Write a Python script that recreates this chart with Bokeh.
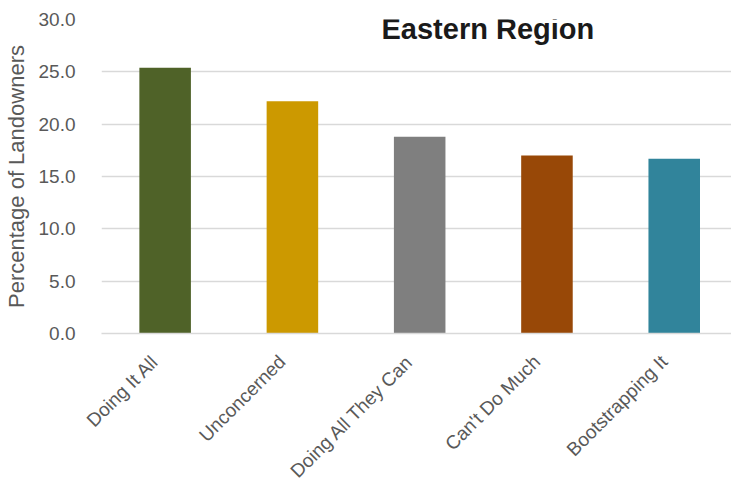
from math import pi
from bokeh.plotting import figure
from bokeh.models import ColumnDataSource, Range1d, FixedTicker, NumeralTickFormatter, Label
from bokeh.embed import file_html
from bokeh.resources import INLINE

categories = ["Doing It All", "Unconcerned", "Doing All They Can", "Can't Do Much", "Bootstrapping It"]
values = [25.4, 22.2, 18.8, 17.0, 16.7]
colors = ["#4f6228", "#cc9900", "#7f7f7f", "#984807", "#31849b"]
y_ticks = [0, 5, 10, 15, 20, 25, 30]
title_text = "Eastern Region"
y_label = "Percentage of Landowners"

idx = list(range(len(categories)))
src = ColumnDataSource(dict(x=idx, top=values, color=colors, name=categories))

p = figure(width=731, height=492, output_backend="svg", toolbar_location=None,
           x_range=Range1d(-0.5, 4.45), y_range=Range1d(0, 30))
p.min_border_left = 95
p.min_border_right = 0
p.min_border_top = 19
p.min_border_bottom = 159
p.outline_line_color = None
p.background_fill_color = "white"
p.border_fill_color = "white"

p.vbar(x="x", top="top", bottom=0, width=0.405, color="color", source=src, line_color=None)

p.xgrid.grid_line_color = None
p.ygrid.grid_line_color = "#d9d9d9"
p.ygrid.grid_line_width = 1.5
p.ygrid.ticker = FixedTicker(ticks=y_ticks)

p.yaxis.ticker = FixedTicker(ticks=y_ticks)
p.yaxis.formatter = NumeralTickFormatter(format="0.0")
p.yaxis.axis_line_color = None
p.yaxis.major_tick_line_color = None
p.yaxis.minor_tick_line_color = None
p.yaxis.major_label_text_font = "Liberation Sans"
p.yaxis.major_label_text_font_size = "19px"
p.yaxis.major_label_text_color = "#595959"
p.yaxis.major_label_standoff = 20
p.yaxis.axis_label = y_label
p.yaxis.axis_label_text_font = "Liberation Sans"
p.yaxis.axis_label_text_font_style = "normal"
p.yaxis.axis_label_text_font_size = "22px"
p.yaxis.axis_label_text_color = "#595959"
p.yaxis.axis_label_standoff = 7

# tick positions nudged slightly left of the bar centres so rotated labels end where the reference's do
label_shift = 0.08
x_ticks = [i - label_shift for i in idx]
p.xaxis.ticker = FixedTicker(ticks=x_ticks)
p.xaxis.major_label_overrides = {t: c for t, c in zip(x_ticks, categories)}
p.xaxis.major_label_orientation = pi / 4
p.xaxis.axis_line_color = "#d9d9d9"
p.xaxis.axis_line_width = 1.5
p.xaxis.major_tick_line_color = None
p.xaxis.minor_tick_line_color = None
p.xaxis.major_label_text_font = "Liberation Sans"
p.xaxis.major_label_text_font_size = "19px"
p.xaxis.major_label_text_color = "#595959"
p.xaxis.major_label_standoff = 19

title = Label(x=1.70, y=29.1, text=title_text,
              text_font="Liberation Sans", text_font_style="bold", text_font_size="29px",
              text_color="#1a1a1a", text_baseline="alphabetic", text_align="left")
p.add_layout(title)

open("out.html", "w").write(file_html(p, INLINE))
